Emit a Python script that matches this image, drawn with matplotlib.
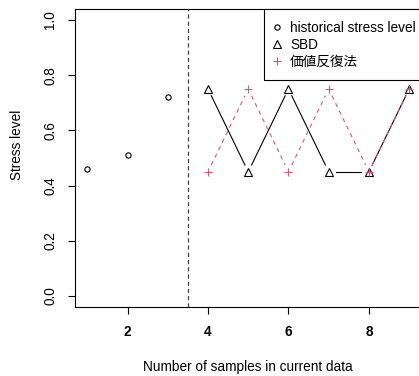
import numpy as np
import matplotlib
matplotlib.use('Agg')
import matplotlib.pyplot as plt
from matplotlib.lines import Line2D

# ---- data ----
hist_x = [1, 2, 3]
hist_y = [0.46, 0.51, 0.72]
cur_x = [4, 5, 6, 7, 8, 9]
sbd_y = [0.75, 0.45, 0.75, 0.45, 0.45, 0.75]
vi_y = [0.45, 0.75, 0.45, 0.75, 0.45, 0.75]
split_x = 3.5
legend_labels = ['historical stress level', 'SBD', '価値反復法']
xticks = [2, 4, 6, 8]
yticks = [0.0, 0.2, 0.4, 0.6, 0.8, 1.0]
ytick_labels = ['0.0', '0.2', '0.4', '0.6', '0.8', '1.0']

plt.rcParams['font.family'] = ['Liberation Sans', 'Noto Sans CJK JP', 'DejaVu Sans']
plt.rcParams['lines.scale_dashes'] = False
RED = '#DF536B'
FS = 9.8

fig = plt.figure(figsize=(4.19, 3.76), dpi=100)
ax = fig.add_axes([74.5 / 419, 69 / 376, 347.5 / 419, 298 / 376])
ax.set_xlim(0.68, 9.32)
ax.set_ylim(-0.04, 1.04)


def gapped(ax, xs, ys, gap_px, **kw):
    pts = ax.transData.transform(np.column_stack([xs, ys]))
    inv = ax.transData.inverted()
    for p0, p1 in zip(pts[:-1], pts[1:]):
        d = p1 - p0
        L = np.hypot(*d)
        if L <= 2 * gap_px:
            continue
        u = d / L
        a = inv.transform(p0 + u * gap_px)
        b = inv.transform(p1 - u * gap_px)
        ax.plot([a[0], b[0]], [a[1], b[1]], **kw)


# vertical split line
ax.axvline(split_x, color='#444444', lw=0.9, dashes=(3.0, 2.2))

# historical points
ax.plot(hist_x, hist_y, 'o', mfc='none', mec='black', ms=3.8, mew=0.8)

# SBD (type b)
gapped(ax, cur_x, sbd_y, 7.5, color='black', lw=0.8)
ax.plot(cur_x, sbd_y, '^', mfc='none', mec='black', ms=5.6, mew=0.8)

# value iteration (type b, dashed)
gapped(ax, cur_x, vi_y, 7.5, color=RED, lw=0.8, dashes=(3.0, 3.0))
ax.plot(cur_x, vi_y, '+', color=RED, ms=6.2, mew=0.8)

ax.set_xticks(xticks)
ax.set_xticklabels([str(t) for t in xticks], fontsize=FS, fontweight='bold')
ax.set_yticks(yticks)
ax.set_yticklabels(ytick_labels, fontsize=FS, rotation=90, va='center')
ax.tick_params(axis='both', direction='out', length=5, width=0.8, color='black')
ax.tick_params(axis='x', pad=8)
ax.tick_params(axis='y', pad=7.5)
for s in ax.spines.values():
    s.set_linewidth(0.8)
    s.set_color('black')

ax.set_xlabel('Number of samples in current data', fontsize=FS, va='center')
ax.xaxis.set_label_coords(0.5, -0.201)
ax.set_ylabel('Stress level', fontsize=FS, va='center', ha='center')
ax.yaxis.set_label_coords(-0.165, 0.544)

handles = [
    Line2D([], [], ls='none', marker='o', mfc='none', mec='black', ms=3.8, mew=0.8),
    Line2D([], [], ls='none', marker='^', mfc='none', mec='black', ms=5.6, mew=0.8),
    Line2D([], [], ls='none', marker='+', color=RED, ms=6.2, mew=0.8),
]
leg = ax.legend(handles, legend_labels, loc='upper left', bbox_to_anchor=(0.545, 1.0),
                borderaxespad=0, frameon=True, fancybox=False, edgecolor='black',
                framealpha=1, fontsize=FS, handlelength=0.2, handletextpad=0.85,
                borderpad=0.88, labelspacing=0.2)
leg.get_frame().set_linewidth(0.8)

fig.savefig('out.png', dpi=100)
